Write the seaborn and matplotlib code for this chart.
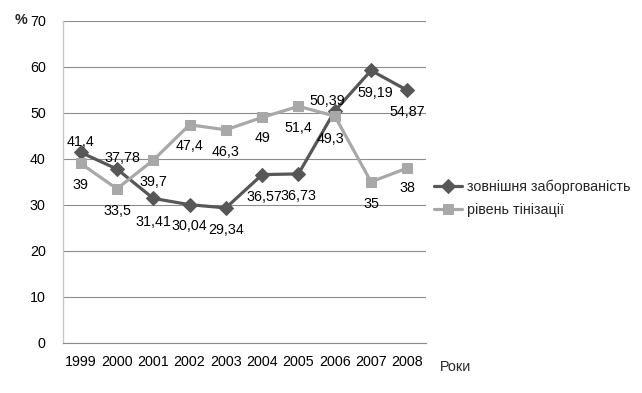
import matplotlib
matplotlib.use("Agg")
import matplotlib.pyplot as plt
import seaborn as sns
import pandas as pd
import numpy as np

years = ["1999", "2000", "2001", "2002", "2003", "2004", "2005", "2006", "2007", "2008"]
debt = [41.4, 37.78, 31.41, 30.04, 29.34, 36.57, 36.73, 50.39, 59.19, 54.87]
shadow = [39, 33.5, 39.7, 47.4, 46.3, 49, 51.4, 49.3, 35, 38]
debt_labels = ["41,4", "37,78", "31,41", "30,04", "29,34", "36,57", "36,73", "50,39", "59,19", "54,87"]
shadow_labels = ["39", "33,5", "39,7", "47,4", "46,3", "49", "51,4", "49,3", "35", "38"]
name_debt = "зовнішня заборгованість"
name_shadow = "рівень тінізації"

# label offsets in pixels (position/styling, not data)
debt_off = [(0, 10), (5, 11), (0, -24), (0, -21), (0, -22), (2, -22), (0, -22), (-8, 10), (4, -23), (0, -22)]
shadow_off = [(0, -22), (0, -22), (0, -22), (0, -21), (0, -22), (0, -21), (0, -22), (-4, -23), (0, -22), (0, -20)]

sns.set_theme(style="white")
plt.rcParams["font.family"] = ["Liberation Sans", "DejaVu Sans"]
FS = 10.3

dark = "#575757"
light = "#a8a8a8"

fig = plt.figure(figsize=(6.42, 3.93), dpi=100)
ax = fig.add_axes([62.5 / 642, 50 / 393, 363 / 642, 322.3 / 393])

df = pd.DataFrame({"year": years, "debt": debt, "shadow": shadow})
sns.lineplot(data=df, x="year", y="debt", ax=ax, color=dark, lw=2.3, marker="D",
             markersize=7, markeredgecolor=dark, label=name_debt, sort=False)
sns.lineplot(data=df, x="year", y="shadow", ax=ax, color=light, lw=2.3, marker="s",
             markersize=7.5, markeredgecolor=light, label=name_shadow, sort=False)

for i, (v, t, o) in enumerate(zip(debt, debt_labels, debt_off)):
    ax.annotate(t, (i, v), xytext=o, textcoords="offset pixels", ha="center", va="center",
                fontsize=FS, color="black")
for i, (v, t, o) in enumerate(zip(shadow, shadow_labels, shadow_off)):
    ax.annotate(t, (i, v), xytext=o, textcoords="offset pixels", ha="center", va="center",
                fontsize=FS, color="black")

ax.set_xlim(-0.5, len(years) - 0.5)
ax.set_ylim(0, 70)
ax.set_yticks(range(0, 71, 10))
ax.set_xticks(range(len(years)))
ax.set_xticklabels(years)
ax.set_xticks(np.arange(-0.5, len(years), 1.0), minor=True)
ax.tick_params(axis="x", which="major", length=0, pad=9, labelsize=FS, colors="black")
ax.tick_params(axis="x", which="minor", length=5, width=0.8, color="#8c8c8c", direction="out")
ax.tick_params(axis="y", length=0, pad=12, labelsize=FS, colors="black")
ax.grid(axis="y", color="#8c8c8c", lw=0.8)
ax.grid(axis="x", visible=False)
ax.set_axisbelow(True)
for s in ["top", "right"]:
    ax.spines[s].set_visible(False)
ax.spines["left"].set_color("#c8c8c8")
ax.spines["left"].set_linewidth(1.0)
ax.spines["bottom"].set_color("#8c8c8c")
ax.spines["bottom"].set_linewidth(0.8)
ax.set_xlabel("")
ax.set_ylabel("")

fig.text(15 / 642, 1 - 20 / 393, "%", fontsize=FS, ha="left", va="center", fontweight="bold")
fig.text(440 / 642, 1 - 367 / 393, "Роки", fontsize=FS, ha="left", va="center")

leg = ax.legend(loc="center left", bbox_to_anchor=(428 / 642, 1 - 198 / 393),
                bbox_transform=fig.transFigure, frameon=False, fontsize=FS,
                handlelength=2.0, handletextpad=0.3, labelspacing=0.6, borderaxespad=0)

fig.savefig("out.png", dpi=100)
